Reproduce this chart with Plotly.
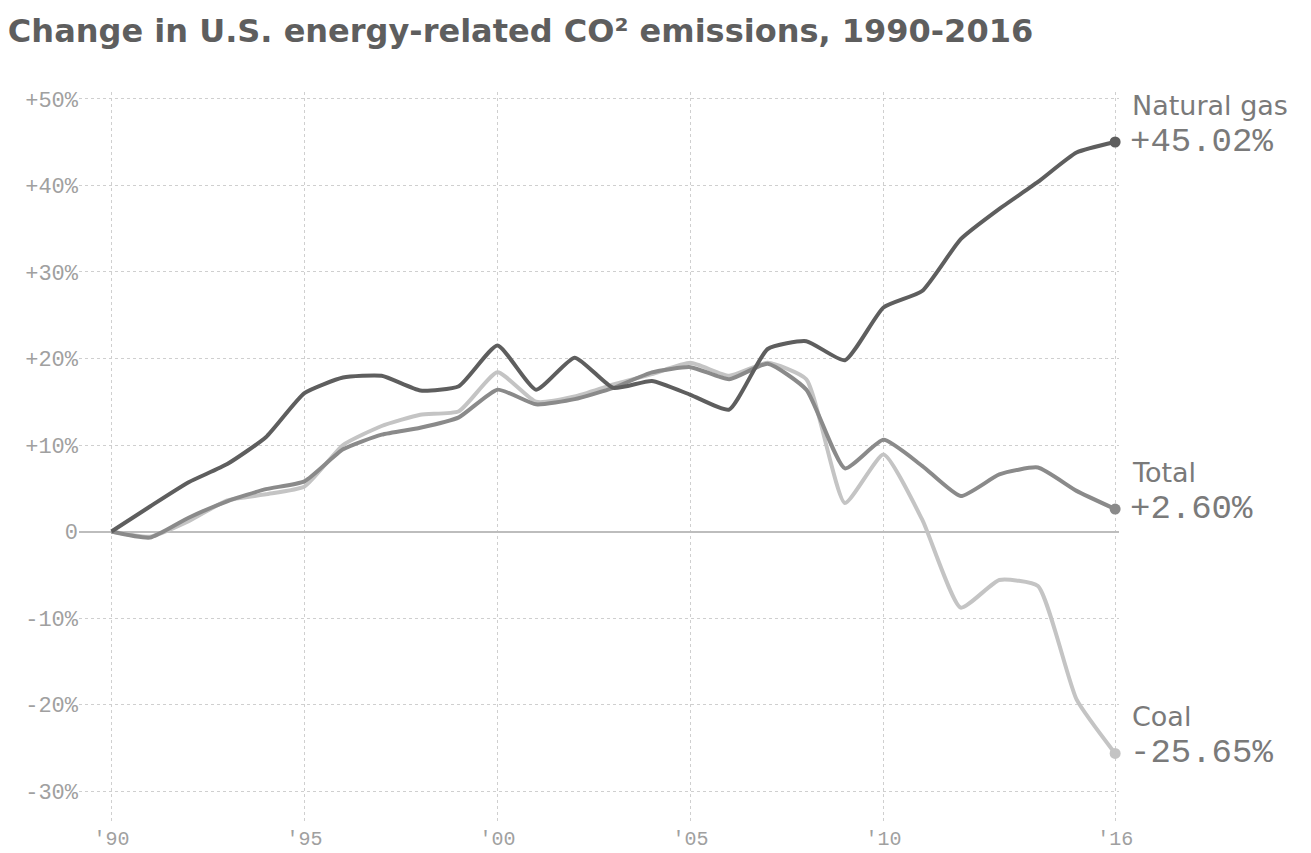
import plotly.graph_objects as go

years = list(range(1990, 2017))
natural_gas = [0, 2.9, 5.7, 7.8, 10.9, 16.0, 17.8, 18.0, 16.3, 16.8, 21.5, 16.4, 20.1, 16.6,
               17.4, 15.8, 14.1, 21.1, 22.0, 19.8, 25.9, 27.8, 33.8, 37.3, 40.4, 43.8, 45.02]
total = [0, -0.7, 1.6, 3.5, 4.9, 5.8, 9.5, 11.2, 12.0, 13.2, 16.4, 14.7, 15.3, 16.6,
         18.4, 19.0, 17.6, 19.4, 16.4, 7.3, 10.6, 7.6, 4.1, 6.6, 7.4, 4.7, 2.60]
coal = [0, -0.6, 1.2, 3.6, 4.3, 5.2, 10.0, 12.2, 13.5, 13.9, 18.4, 15.0, 15.6, 17.0,
        18.2, 19.5, 18.0, 19.5, 17.6, 3.3, 8.9, 1.4, -8.8, -5.6, -6.3, -19.4, -25.65]

series_names = ["Coal", "Total", "Natural gas"]
series_values = [coal, total, natural_gas]
series_colors = ["#c4c4c4", "#8a8a8a", "#5e5e5e"]
end_labels = ["-25.65%", "+2.60%", "+45.02%"]

x_tickvals = [1990, 1995, 2000, 2005, 2010, 2016]
x_ticktext = ["'90", "'95", "'00", "'05", "'10", "'16"]
y_tickvals = [-30, -20, -10, 0, 10, 20, 30, 40, 50]
y_ticktext = ["-30%", "-20%", "-10%", "0", "+10%", "+20%", "+30%", "+40%", "+50%"]

title_text = "Change in U.S. energy-related CO² emissions, 1990-2016"

fig = go.Figure()
for name, vals, col in zip(series_names, series_values, series_colors):
    fig.add_trace(go.Scatter(
        x=years, y=vals, mode="lines", name=name,
        line=dict(color=col, width=4, shape="spline", smoothing=0.5),
        cliponaxis=False, hoverinfo="skip",
    ))
    fig.add_trace(go.Scatter(
        x=[years[-1]], y=[vals[-1]], mode="markers", name=name,
        marker=dict(color=col, size=11), cliponaxis=False, hoverinfo="skip",
    ))

for name, vals, col, lab in zip(series_names, series_values, series_colors, end_labels):
    fig.add_annotation(x=years[-1], y=vals[-1], xref="x", yref="y", text=name,
                       showarrow=False, xanchor="left", yanchor="middle",
                       xshift=15, yshift=37,
                       font=dict(family="DejaVu Sans", size=27, color="#7a7a7a"))
    fig.add_annotation(x=years[-1], y=vals[-1], xref="x", yref="y", text=lab,
                       showarrow=False, xanchor="left", yanchor="middle",
                       xshift=13, yshift=0,
                       font=dict(family="Liberation Mono", size=34, color="#7a7a7a"))

fig.update_layout(
    width=1311, height=853,
    margin=dict(l=79, r=192, t=92, b=29),
    paper_bgcolor="white", plot_bgcolor="white",
    showlegend=False,
    title=dict(text=title_text, x=0.006, xanchor="left", y=0.964, yanchor="middle",
               font=dict(family="DejaVu Sans", size=32, color="#5e5e5e", weight=700)),
)
fig.update_xaxes(range=[1989.16, 2016.1], tickvals=x_tickvals, ticktext=x_ticktext,
                 showgrid=True, gridcolor="#cfcfcf", griddash="dot", gridwidth=1,
                 zeroline=False, showline=False, ticks="", automargin=False,
                 tickfont=dict(family="Liberation Mono", size=20, color="#a0a0a0"))
fig.update_yaxes(range=[-33.8, 50.8], tickvals=y_tickvals, ticktext=y_ticktext,
                 showgrid=True, gridcolor="#cfcfcf", griddash="dot", gridwidth=1,
                 zeroline=True, zerolinecolor="#bdbdbd", zerolinewidth=2,
                 showline=False, ticks="", automargin=False,
                 tickfont=dict(family="Liberation Mono", size=22, color="#a0a0a0"))

fig.write_html("out.html",
               config={"displayModeBar": False},
               post_script="document.body.style.margin='0';document.body.style.overflow='hidden';")
